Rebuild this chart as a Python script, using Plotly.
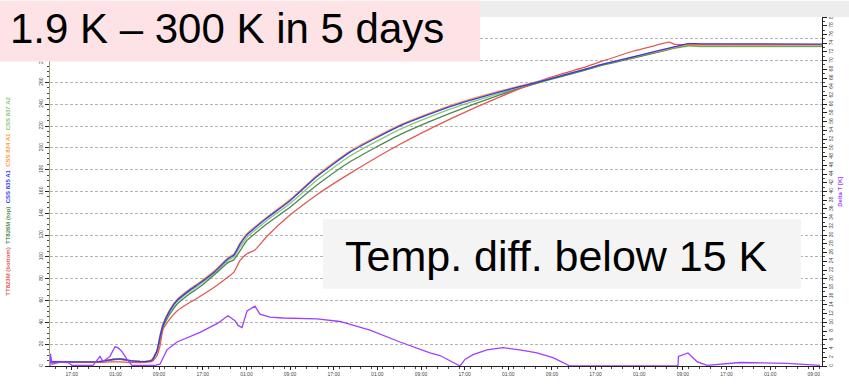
import pandas as pd
import plotly.graph_objects as go

# ---- data ----
START = pd.Timestamp("2021-03-01 13:00")

hours = [0, 9.16, 11.0, 12.83, 14.66, 17.41, 18.70, 19.61, 20.16, 20.71, 21.99, 23.28,
         25.66, 27.49, 30.24, 32.62, 33.72, 34.82, 36.11, 37.57, 39.77, 43.99, 48.94,
         54.99, 64.15, 73.31, 82.48, 91.64, 97.69, 100.81, 106.85, 109.97, 113.45,
         114.55, 116.94, 119.13, 141.5]

css834 = [4.2, 4.2, 5.9, 6.8, 5.1, 4.2, 5.9, 14.8, 28.2, 38.8, 52.2, 61.1,
          70.8, 77.1, 87.7, 99.3, 102.8, 112.6, 121.5, 127.7, 136.6, 152.6, 174.8,
          197.1, 221.1, 238.8, 252.2, 263.7, 271.7, 276.2, 283.3, 286.8, 290.8,
          292.2, 294.4, 294.1, 294.0]
css835 = [4.0, 4.0, 5.7, 6.6, 5.0, 4.0, 5.6, 14.0, 27.0, 37.6, 51.0, 60.0,
          69.8, 76.1, 86.7, 98.3, 101.8, 111.6, 120.5, 126.7, 135.6, 151.6, 173.8,
          196.1, 220.1, 237.8, 251.4, 263.3, 271.5, 276.0, 283.5, 287.3, 291.5,
          292.8, 295.6, 295.4, 295.2]
css837 = [4.0, 4.0, 5.6, 6.4, 5.0, 4.0, 5.5, 13.8, 26.0, 37.0, 50.0, 59.0,
          68.5, 74.8, 85.5, 96.8, 100.0, 109.0, 118.0, 124.5, 133.5, 149.0, 170.5,
          192.5, 217.0, 235.5, 250.0, 262.5, 270.8, 275.5, 282.6, 286.2, 290.2,
          291.4, 293.2, 292.9, 292.8]
tt826 = [4.0, 4.0, 5.5, 6.2, 4.9, 4.0, 5.3, 13.1, 23.7, 35.3, 47.7, 56.6,
         66.4, 72.6, 84.2, 94.8, 97.5, 105.5, 115.3, 121.5, 130.4, 145.5, 165.9,
         187.3, 212.2, 231.7, 248.6, 262.8, 270.8, 275.3, 282.4, 285.9, 290.4,
         291.7, 294.0, 293.5, 293.5]
tt823 = [3.3, 3.3, 3.7, 3.7, 3.3, 3.3, 4.2, 9.5, 18.4, 33.5, 43.3, 50.4,
         58.4, 63.7, 72.6, 81.5, 86.0, 96.7, 102.9, 106.4, 118.9, 138.4, 157.1,
         176.6, 203.3, 226.4, 246.8, 264.6, 273.5, 278.8, 288.6, 292.6, 296.9,
         294.8, 294.8, 294.8, 294.4]

dt_hours = [0, 0.09, 0.37, 1.47, 2.38, 3.30, 4.03, 7.88, 9.16, 9.71, 10.99, 11.91,
            12.46, 13.20, 14.11, 15.03, 19.24, 20.16, 21.44, 23.28, 27.49, 30.61,
            32.62, 33.91, 34.46, 35.19, 36.11, 37.57, 38.49, 40.32, 42.71, 48.94,
            53.15, 58.65, 64.15, 69.65, 71.48, 75.15, 76.06, 77.53, 80.10, 83.03,
            86.14, 89.26, 92.19, 95.31, 115.10, 115.19, 116.94, 118.59, 120.42,
            122.80, 126.47, 135.08, 141.13]
delta_t = [0, 2.8, 0.4, 0.8, 0.9, 0.8, 0.15, 0.15, 2.2, 1.0, 2.2, 4.4,
           4.2, 3.3, 1.5, 0.15, 0.15, 0.4, 3.7, 5.5, 7.7, 9.7,
           11.5, 10.4, 9.3, 8.8, 12.6, 13.7, 11.9, 11.2, 11.0, 10.8,
           10.2, 8.2, 5.5, 3.0, 2.4, 0, 1.5, 2.6, 3.7, 4.2,
           3.7, 3.0, 1.9, 0, 0, 2.2, 3.0, 1.0, 0.15,
           0.4, 0.8, 0.6, 0.15]

series = [
    ("CSS 837 A2", css837, "#8cc47a"),
    ("TT826M (top)", tt826, "#4b8a4e"),
    ("TT823M (bottom)", tt823, "#e05a55"),
    ("CSS 834 A1", css834, "#ff9a3c"),
    ("CSS 835 A1", css835, "#2f3cf0"),
]

title_text = "1.9 K – 300 K in 5 days"
note_text = "Temp. diff. below 15 K"

# ---- figure ----
t = START + pd.to_timedelta(hours, unit="h")
tdt = START + pd.to_timedelta(dt_hours, unit="h")

fig = go.Figure()
for name, vals, col in series:
    fig.add_trace(go.Scatter(x=t, y=vals, mode="lines", name=name,
                             line=dict(color=col, width=1.3, shape="spline",
                                       smoothing=0.5)))
fig.add_trace(go.Scatter(x=tdt, y=delta_t, mode="lines", name="Delta T",
                         yaxis="y2", line=dict(color="#a040ff", width=1.3)))

L, R, T, B = 50, 27, 16.7, 8.3
W, H = 849, 385
pw, ph = W - L - R, H - T - B


def px(x):
    return (x - L) / pw


def py(y):
    return (H - B - y) / ph


tickfont = dict(size=5, color="#444", family="Liberation Sans")
fig.update_layout(
    width=W, height=H, margin=dict(l=L, r=R, t=T, b=B),
    paper_bgcolor="white", plot_bgcolor="white", showlegend=False,
    xaxis=dict(type="date", range=[START, START + pd.Timedelta(hours=141.5)],
               tick0=START + pd.Timedelta(hours=4), dtick=8 * 3600 * 1000,
               tickformat="%H:%M", tickfont=tickfont, ticks="outside", ticklen=3,
               tickcolor="#222", showline=True, linecolor="#222", linewidth=1,
               showgrid=False, zeroline=False,
               minor=dict(dtick=2 * 3600 * 1000, ticks="outside", ticklen=2,
                          tickcolor="#444")),
    yaxis=dict(range=[0, 320], dtick=20, tickangle=-90, tickfont=tickfont,
               ticks="outside", ticklen=4, tickcolor="#222", showline=True,
               linecolor="#9aa27a", linewidth=1, showgrid=True,
               gridcolor="#b4b4b4", griddash="3px,2px", gridwidth=1,
               zeroline=False,
               minor=dict(dtick=5, ticks="outside", ticklen=2, tickcolor="#444")),
    yaxis2=dict(range=[0, 80], dtick=2, overlaying="y", side="right",
                tickangle=-90, tickfont=tickfont, ticks="outside", ticklen=4,
                tickcolor="#222", showline=True, linecolor="#222", linewidth=1,
                showgrid=False, zeroline=False,
                minor=dict(dtick=1, ticks="outside", ticklen=2, tickcolor="#444")),
)

shapes = [
    # top grey strip
    dict(type="rect", xref="paper", yref="paper", x0=px(0), x1=px(W), y0=py(T), y1=py(0),
         fillcolor="#ededed", line=dict(width=0), layer="above"),
    # pink title box
    dict(type="rect", xref="paper", yref="paper", x0=px(0), x1=px(480), y0=py(62.7), y1=py(0),
         fillcolor="#fde3e5", line=dict(width=0), layer="above"),
    # note box
    dict(type="rect", xref="paper", yref="paper", x0=px(323), x1=px(801), y0=py(297), y1=py(225),
         fillcolor="#f4f4f4", line=dict(width=0), layer="above"),
]
fig.update_layout(shapes=shapes)

ytitle = ("<b><span style='color:#e05a55'>TT823M (bottom)</span>  "
          "<span style='color:#4b8a4e'>TT826M (top)</span>  "
          "<span style='color:#2f3cf0'>CSS 835 A1</span>  "
          "<span style='color:#ff9a3c'>CSS 834 A1</span>  "
          "<span style='color:#8cc47a'>CSS 837 A2</span></b>")

annotations = [
    dict(text=title_text, xref="paper", yref="paper", x=px(8), y=py(29),
         xanchor="left", yanchor="middle", showarrow=False,
         font=dict(size=42, color="black", family="Liberation Sans")),
    dict(text=note_text, xref="paper", yref="paper", x=px(556.5), y=py(263),
         xanchor="center", yanchor="middle", showarrow=False,
         font=dict(size=43, color="black", family="Liberation Sans")),
    dict(text=ytitle, xref="paper", yref="paper", x=px(8), y=py(202),
         xanchor="center", yanchor="middle", textangle=-90, showarrow=False,
         font=dict(size=6, family="Liberation Sans")),
    dict(text="<b>Delta T [K]</b>", xref="paper", yref="paper", x=px(840), y=py(197),
         xanchor="center", yanchor="middle", textangle=-90, showarrow=False,
         font=dict(size=6, color="#a040ff", family="Liberation Sans")),
]
fig.update_layout(annotations=annotations)

fig.write_html("out.html")
